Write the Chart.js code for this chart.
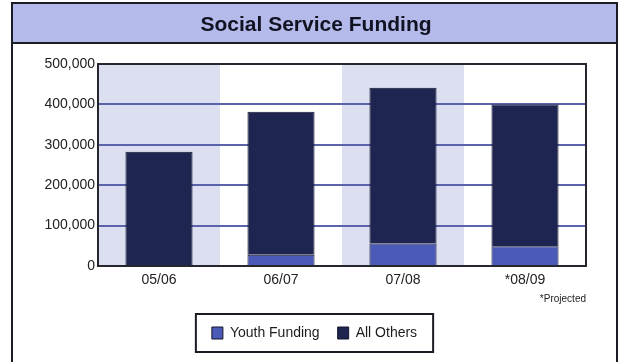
<!DOCTYPE html>
<html>
<head>
<meta charset="utf-8">
<script src="https://cdn.jsdelivr.net/npm/chart.js@4"></script>
<style>
  html, body { margin: 0; padding: 0; background: #fff; }
  #grafica { display: block; }
</style>
</head>
<body>
<canvas id="grafica" width="618" height="362"></canvas>
<script>
// datos de la grafica
const categorias = ['05/06', '06/07', '07/08', '*08/09'];
const youthFunding = [2000, 28000, 56000, 49000];
const allOthers = [281000, 354000, 385000, 351000];
const yMax = 500000;
const yPaso = 100000;
const titulo = 'Social Service Funding';
const nota = '*Projected';

// marco, barra del titulo y franjas de fondo
const marcoPlugin = {
    id: 'marco',
    beforeDraw: (chart) => {
        const ctx = chart.ctx;
        const area = chart.chartArea;
        ctx.save();
        ctx.fillStyle = '#ffffff';
        ctx.fillRect(0, 0, chart.width, chart.height);

        ctx.fillStyle = '#b4bae9';
        ctx.fillRect(12, 3, 605, 40);
        ctx.strokeStyle = '#1c1c24';
        ctx.lineWidth = 2;
        ctx.strokeRect(12, 3, 605, 400);
        ctx.beginPath();
        ctx.moveTo(12, 43);
        ctx.lineTo(617, 43);
        ctx.stroke();

        ctx.fillStyle = '#111322';
        ctx.font = 'bold 21px "Liberation Sans", Arial, sans-serif';
        ctx.textAlign = 'center';
        ctx.textBaseline = 'middle';
        ctx.fillText(titulo, 316, 25);

        // franjas en la 1a y 3a categoria
        const x = chart.scales.x;
        const ancho = (area.right - area.left) / categorias.length;
        ctx.fillStyle = '#dcdff0';
        categorias.forEach((c, i) => {
            if (i % 2 === 0) {
                const centro = x.getPixelForValue(i);
                ctx.fillRect(centro - ancho / 2, area.top, ancho, area.bottom - area.top);
            }
        });
        ctx.restore();
    },
    afterDatasetsDraw: (chart) => {
        const ctx = chart.ctx;
        const area = chart.chartArea;
        ctx.save();
        ctx.strokeStyle = '#26262e';
        ctx.lineWidth = 2;
        ctx.strokeRect(area.left, area.top, area.right - area.left, area.bottom - area.top);
        ctx.restore();
    },
    afterDraw: (chart) => {
        // recuadro de la leyenda
        const cajas = chart.legend.legendHitBoxes;
        if (!cajas || !cajas.length) return;
        const ctx = chart.ctx;
        let izq = Infinity, der = -Infinity, centroY = 0;
        cajas.forEach(b => {
            izq = Math.min(izq, b.left);
            der = Math.max(der, b.left + b.width);
            centroY = b.top + b.height / 2;
        });
        ctx.save();
        ctx.strokeStyle = '#1c1c24';
        ctx.lineWidth = 2;
        ctx.strokeRect(izq - 16, centroY - 19, der - izq + 32, 38);
        ctx.restore();
    }
};

const pintarGrafica = () => {
    const ctx = document.getElementById('grafica');
    const myChart = new Chart(ctx, {
        type: 'bar',
        data: {
            labels: categorias,
            datasets: [{
                label: 'Youth Funding',
                data: youthFunding,
                backgroundColor: '#4b5ab6',
                borderColor: '#12142a',
                borderWidth: 1
            }, {
                label: 'All Others',
                data: allOthers,
                backgroundColor: '#1f2551',
                borderColor: '#12142a',
                borderWidth: 1
            }]
        },
        options: {
            responsive: false,
            devicePixelRatio: 1,
            animation: false,
            layout: {
                padding: { top: 64, left: 43, right: 32, bottom: 14 }
            },
            datasets: {
                bar: { categoryPercentage: 1, barPercentage: 0.55 }
            },
            scales: {
                x: {
                    stacked: true,
                    grid: { display: false, drawTicks: false },
                    border: { display: false },
                    ticks: {
                        padding: 6,
                        color: '#222222',
                        font: { family: '"Liberation Sans", Arial, sans-serif', size: 14 }
                    },
                    title: {
                        display: true,
                        text: nota,
                        align: 'end',
                        color: '#222222',
                        padding: { top: 0, bottom: 3 },
                        font: { family: '"Liberation Sans", Arial, sans-serif', size: 10 }
                    },
                    afterFit: (scale) => { scale.height = 42; }
                },
                y: {
                    stacked: true,
                    min: 0,
                    max: yMax,
                    ticks: {
                        stepSize: yPaso,
                        padding: 3,
                        color: '#222222',
                        font: { family: '"Liberation Sans", Arial, sans-serif', size: 14 },
                        callback: (v) => v.toLocaleString('en-US')
                    },
                    grid: {
                        drawTicks: false,
                        lineWidth: 2,
                        color: (c) => (c.tick && (c.tick.value === 0 || c.tick.value === yMax)) ? 'rgba(0,0,0,0)' : '#5b63aa'
                    },
                    border: { display: false },
                    afterFit: (scale) => { scale.width = 55; }
                }
            },
            plugins: {
                title: { display: false },
                tooltip: { enabled: false },
                legend: {
                    position: 'bottom',
                    maxHeight: 40,
                    labels: {
                        boxWidth: 11,
                        boxHeight: 12,
                        padding: 18,
                        color: '#1c1c1c',
                        font: { family: '"Liberation Sans", Arial, sans-serif', size: 14 }
                    }
                }
            }
        },
        plugins: [marcoPlugin]
    });
}

pintarGrafica();
</script>
</body>
</html>
